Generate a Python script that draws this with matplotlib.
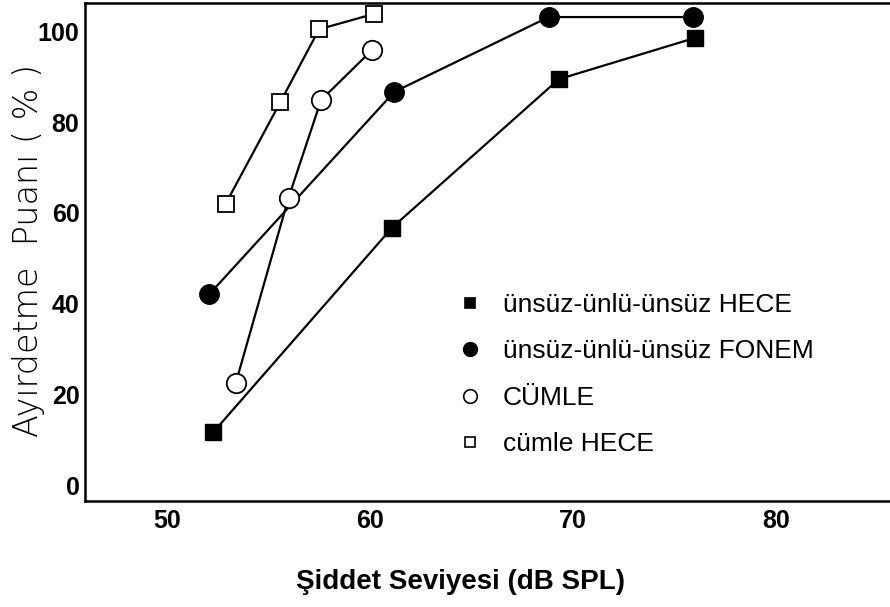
import matplotlib
matplotlib.use("Agg")
import matplotlib.pyplot as plt

# Veriler (grafikten okunan yaklaşık değerler)
hece_x = [52.3, 61.1, 69.3, 76.0]
hece_y = [11.7, 56.8, 89.5, 98.6]

fonem_x = [52.1, 61.2, 68.8, 75.9]
fonem_y = [42.1, 86.7, 103.2, 103.2]

cumle_x = [53.4, 56.0, 57.6, 60.1]
cumle_y = [22.5, 63.4, 84.9, 95.9]

cumle_hece_x = [52.9, 55.6, 57.5, 60.2]
cumle_hece_y = [62.0, 84.5, 100.5, 103.9]

labels = ["ünsüz-ünlü-ünsüz HECE", "ünsüz-ünlü-ünsüz FONEM", "CÜMLE", "cümle HECE"]
x_ticks = [50, 60, 70, 80]
y_ticks = [0, 20, 40, 60, 80, 100]

plt.rcParams["font.family"] = ["Liberation Sans", "DejaVu Sans"]

W, H = 890, 607
fig = plt.figure(figsize=(W / 100, H / 100), dpi=100)
ax = fig.add_axes([85 / W, (H - 501) / H, (W - 85) / W, (501 - 3) / H])

lw = 1.6
ax.plot(hece_x, hece_y, "-", color="black", lw=lw, marker="s", ms=11,
        mfc="black", mec="black", label=labels[0])
ax.plot(fonem_x, fonem_y, "-", color="black", lw=lw, marker="o", ms=14,
        mfc="black", mec="black", label=labels[1])
ax.plot(cumle_x, cumle_y, "-", color="black", lw=lw, marker="o", ms=14,
        mfc="white", mec="black", mew=1.3, label=labels[2])
ax.plot(cumle_hece_x, cumle_hece_y, "-", color="black", lw=lw, marker="s", ms=11,
        mfc="white", mec="black", mew=1.3, label=labels[3])

ax.set_xlim(45.98, 85.6)
ax.set_ylim(-3.5, 106.3)
ax.set_xticks(x_ticks)
ax.set_yticks(y_ticks)
ax.tick_params(axis="both", length=0, labelsize=18)
ax.tick_params(axis="x", pad=6)
ax.tick_params(axis="y", pad=4)
for t in ax.get_xticklabels() + ax.get_yticklabels():
    t.set_fontweight("bold")

ax.spines["right"].set_visible(False)
for s in ["left", "top", "bottom"]:
    ax.spines[s].set_linewidth(1.8)

# Lejant: yalnızca işaretler, çizgisiz
handles, _ = ax.get_legend_handles_labels()
leg_handles = []
for h in handles:
    hh = plt.Line2D([], [], linestyle="none", marker=h.get_marker(),
                    markersize=h.get_markersize() * 0.7,
                    markerfacecolor=h.get_markerfacecolor(),
                    markeredgecolor="black", markeredgewidth=1.2)
    leg_handles.append(hh)
ax.legend(leg_handles, labels, loc="upper left",
          bbox_to_anchor=(459 / W, 1 - 293 / H), bbox_transform=fig.transFigure,
          frameon=False, fontsize=19, handlelength=0.8, handletextpad=0.85,
          labelspacing=0.85, borderpad=0, borderaxespad=0)

fig.text(460 / W, 1 - 582 / H, "Şiddet Seviyesi (dB SPL)", ha="center", va="center",
         fontsize=20, fontweight="bold")
fig.text(29 / W, 1 - 250 / H, "Ayırdetme  Puanı ( % )", ha="center", va="center",
         rotation=90, fontsize=24, family=["DejaVu Sans"], fontweight="light")

fig.savefig("out.png", dpi=100)
plt.close(fig)
